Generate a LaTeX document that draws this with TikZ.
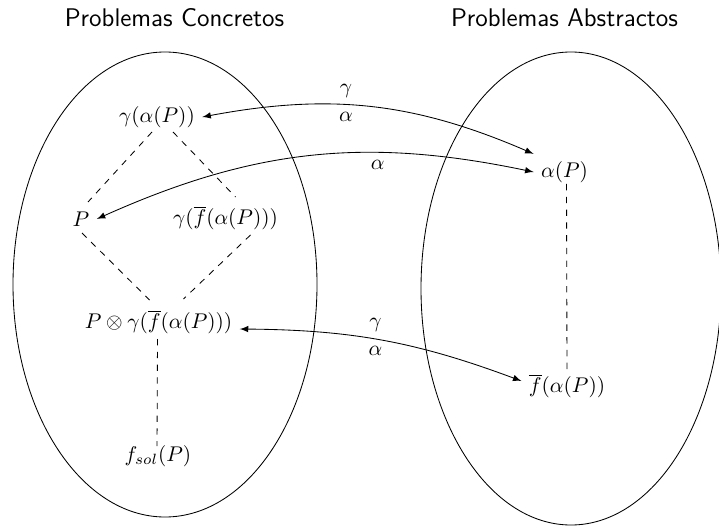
\documentclass[tikz,border=0pt]{standalone}
\usetikzlibrary{calc}
\begin{document}
\begin{tikzpicture}[x=0.4701pt,y=0.4701pt,>=latex,
  math/.style={inner sep=3.33pt},
  title/.style={font=\sffamily\large},
  dashline/.style={dashed},
  arr/.style={<->}]
\useasboundingbox (0,0) rectangle (719,-527);
\begin{scope}
\clip (0,0) rectangle (719,-527);
\draw (165,-284.5) ellipse [x radius=152, y radius=232.5];
\draw (571,-288.5) ellipse [x radius=150, y radius=236.5];
\end{scope}
\node[title] (t1) at (174.5,-18) {Problemas Concretos};
\node[title] (t2) at (564.5,-18) {Problemas Abstractos};
\node[math] (g1) at (157,-117) {$\gamma(\alpha(P))$};
\node[math] (p) at (81,-219) {$P$};
\node[math] (gf) at (225.5,-218) {$\gamma(\overline{f}(\alpha(P)))$};
\node[math] (pg) at (158.5,-322) {$P \otimes \gamma(\overline{f}(\alpha(P)))$};
\node[math] (fs) at (158,-456) {$f_{sol}(P)$};
\node[math] (ap) at (564.5,-172) {$\alpha(P)$};
\node[math] (fa) at (567,-386) {$\overline{f}(\alpha(P))$};
% dashed diamond
\draw[dashline] ([shift={(-5,-15)}]g1.center) -- ([shift={(7,17)}]p.center);
\draw[dashline] ([shift={(16,-15)}]g1.center) -- ([shift={(10,21)}]gf.center);
\draw[dashline] ([shift={(1,-14)}]p.center) -- ([shift={(-9,22)}]pg.center);
\draw[dashline] ([shift={(25,-17)}]gf.center) -- ([shift={(25,23)}]pg.center);
\draw[dashline] ([shift={(-1,-17)}]pg.center) -- ([shift={(-1,10)}]fs.center);
\draw[dashline] ([shift={(2,-12)}]ap.center) -- ([shift={(0,12)}]fa.center);
% arrows
\draw[arr] (g1.east) to[bend left=17] node[pos=0.42,above] {$\gamma$} node[pos=0.42,below] {$\alpha$} (ap.north west);
\draw[arr] (p.east) to[bend left=18] node[pos=0.66,below] {$\alpha$} (ap.west);
\draw[arr] ([yshift=-3.3pt]pg.east) to[bend left=10] node[pos=0.47,above] {$\gamma$} node[pos=0.47,below] {$\alpha$} ([yshift=2.35pt]fa.west);
\end{tikzpicture}
\end{document}
